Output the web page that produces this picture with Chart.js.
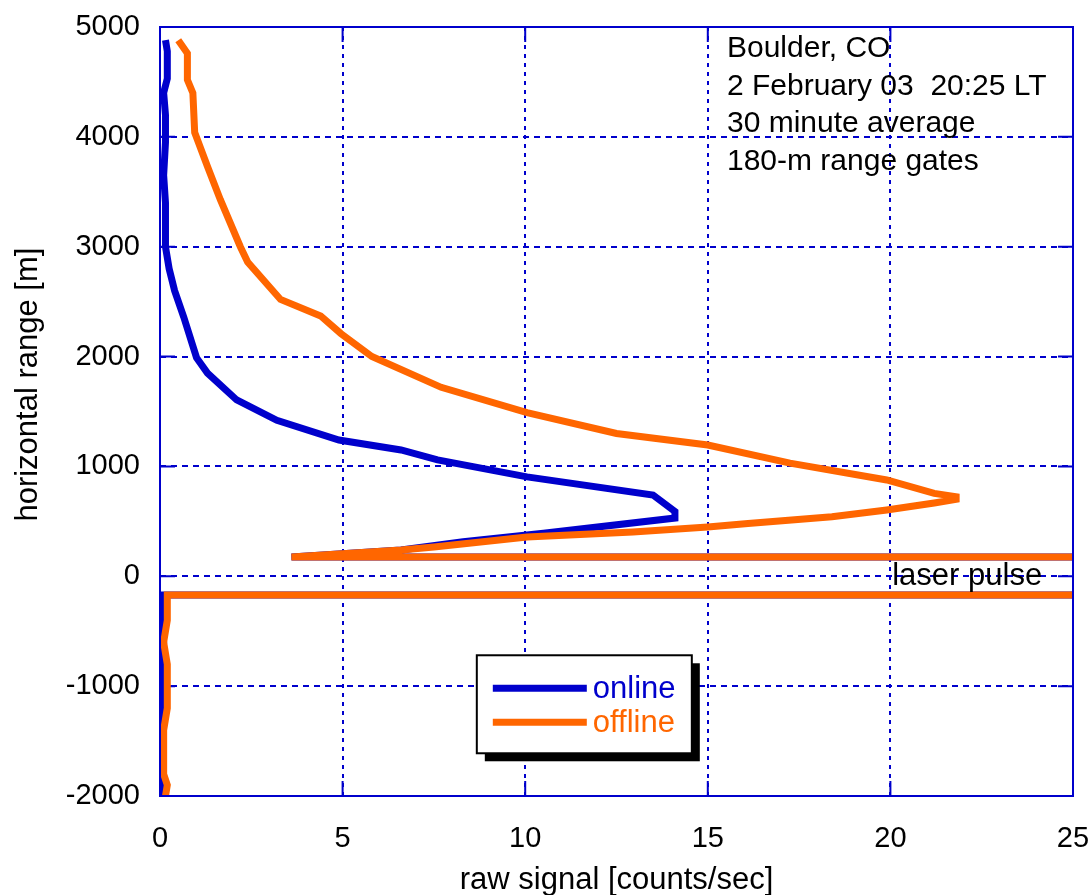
<!DOCTYPE html>
<html>
<head>
<meta charset="utf-8">
<script src="https://cdn.jsdelivr.net/npm/chart.js@4"></script>
<style>
  html, body { margin: 0; padding: 0; background: #ffffff; }
  #wrap { width: 1092px; height: 895px; }
</style>
</head>
<body>
<div id="wrap"><canvas id="chart" width="1092" height="895"></canvas></div>
<script>
// Datos (señal en counts/sec, rango en m)
const onlineSignal = [0.15, 0.2, 0.2, 0.1, 0.15, 0.15, 0.1, 0.15, 0.15, 0.25, 0.4, 0.65, 1.0, 1.3, 2.1,
    3.2, 4.9, 6.6, 7.6, 10.05, 13.5, 14.1, 14.1, 10.5, 8.3, 6.6, 3.6, 60, 60, 0.1, 0.05, 0.1, 0.05, 0.1, 0.05, 0.05];
const onlineRange = [4880, 4780, 4530, 4400, 4200, 3950, 3650, 3400, 3000, 2800, 2600, 2360, 1990, 1850, 1605,
    1420, 1240, 1150, 1060, 905, 740, 590, 530, 392, 315, 240, 176, 176, -170, -170, -400, -600, -900, -1200, -1600, -2000];

const offlineSignal = [0.5, 0.75, 0.75, 0.9, 0.95, 1.3, 1.65, 2.2, 2.4, 3.3, 4.4, 4.95, 5.8, 7.7, 10.05,
    12.5, 15.0, 17.25, 19.9, 21.2, 21.8, 21.8, 21.2, 19.9, 18.4, 16.1, 15.0, 12.95, 10.05, 7.5,
    6.6, 3.6, 60, 60, 0.2, 0.2, 0.1, 0.2, 0.2, 0.1, 0.1, 0.2, 0.15];
const offlineRange = [4880, 4760, 4520, 4400, 4040, 3730, 3430, 3000, 2860, 2520, 2370, 2210, 2000, 1720, 1490,
    1300, 1195, 1030, 877, 755, 725, 700, 667, 604, 542, 480, 449, 403, 357, 266,
    240, 176, 176, -170, -170, -400, -600, -800, -1200, -1400, -1800, -1900, -2000];

const xTicks = [0, 5, 10, 15, 20, 25];
const yTicks = [-2000, -1000, 0, 1000, 2000, 3000, 4000, 5000];

const seriesNames = ["online", "offline"];
const seriesColors = ["#0000cc", "#ff6600"];
const noteLines = ["Boulder, CO", "2 February 03  20:25 LT", "30 minute average", "180-m range gates"];
const pulseLabel = "laser pulse";
const xTitle = "raw signal [counts/sec]";
const yTitle = "horizontal range [m]";

const FONT = "'Liberation Sans', Arial, sans-serif";
const BLUE = "#0000cc";

function toPoints(xs, ys) {
    return xs.map((x, i) => ({x: x, y: ys[i]}));
}

// Marco, marcas hacia dentro, textos y leyenda con sombra
const decorations = {
    id: "decorations",
    beforeDatasetsDraw(chart) {
        const ctx = chart.ctx;
        const a = chart.chartArea;
        const xs = chart.scales.x, ys = chart.scales.y;
        const len = 15;
        ctx.save();
        ctx.strokeStyle = BLUE;
        ctx.lineWidth = 2;
        ctx.beginPath();
        xTicks.forEach((v) => {
            const px = xs.getPixelForValue(v);
            ctx.moveTo(px, a.bottom); ctx.lineTo(px, a.bottom - len);
            ctx.moveTo(px, a.top); ctx.lineTo(px, a.top + len);
        });
        yTicks.forEach((v) => {
            const py = ys.getPixelForValue(v);
            ctx.moveTo(a.left, py); ctx.lineTo(a.left + len, py);
            ctx.moveTo(a.right, py); ctx.lineTo(a.right - len, py);
        });
        ctx.stroke();
        ctx.restore();
    },
    afterDatasetsDraw(chart) {
        const ctx = chart.ctx;
        const a = chart.chartArea;
        const w = a.right - a.left, h = a.bottom - a.top;
        ctx.save();
        // marco
        ctx.strokeStyle = BLUE;
        ctx.lineWidth = 2;
        ctx.strokeRect(a.left, a.top, w, h);

        // titulo del eje y (un poco por encima del centro, como en el original)
        ctx.save();
        ctx.translate(28, a.top + 0.465 * h);
        ctx.rotate(-Math.PI / 2);
        ctx.fillStyle = "#000";
        ctx.font = "31px " + FONT;
        ctx.textAlign = "center";
        ctx.textBaseline = "middle";
        ctx.fillText(yTitle, 0, 0);
        ctx.restore();

        // anotacion arriba a la derecha
        ctx.fillStyle = "#000";
        ctx.font = "30px " + FONT;
        ctx.textAlign = "left";
        ctx.textBaseline = "alphabetic";
        noteLines.forEach((t, i) => {
            ctx.fillText(t, a.left + 0.621 * w, a.top + 30 + i * 37.5);
        });

        // etiqueta del pulso laser
        ctx.textBaseline = "middle";
        ctx.font = "31px " + FONT;
        ctx.fillText(pulseLabel, a.left + 0.802 * w, chart.scales.y.getPixelForValue(0));

        // leyenda
        const lx = a.left + 0.347 * w, ly = a.top + 0.817 * h, bw = 215, bh = 98;
        ctx.fillStyle = "#000";
        ctx.fillRect(lx + 8, ly + 8, bw, bh);
        ctx.fillStyle = "#fff";
        ctx.fillRect(lx, ly, bw, bh);
        ctx.strokeStyle = "#000";
        ctx.lineWidth = 2;
        ctx.strokeRect(lx, ly, bw, bh);
        ctx.font = "31px " + FONT;
        seriesNames.forEach((name, i) => {
            const yy = ly + 33 + i * 34;
            ctx.strokeStyle = seriesColors[i];
            ctx.lineWidth = 7;
            ctx.beginPath();
            ctx.moveTo(lx + 16, yy);
            ctx.lineTo(lx + 110, yy);
            ctx.stroke();
            ctx.fillStyle = seriesColors[i];
            ctx.fillText(name, lx + 116, yy + 1);
        });
        ctx.restore();
    }
};

new Chart(document.getElementById("chart"), {
    type: "scatter",
    data: {
        datasets: [
            {
                label: seriesNames[0],
                data: toPoints(onlineSignal, onlineRange),
                showLine: true,
                borderColor: seriesColors[0],
                backgroundColor: seriesColors[0],
                borderWidth: 7,
                pointRadius: 0,
                order: 2,
            },
            {
                label: seriesNames[1],
                data: toPoints(offlineSignal, offlineRange),
                showLine: true,
                borderColor: seriesColors[1],
                backgroundColor: seriesColors[1],
                borderWidth: 7,
                pointRadius: 0,
                order: 1,
            },
        ],
    },
    options: {
        responsive: false,
        animation: false,
        layout: {
            padding: {left: 0, right: 19, top: 27, bottom: 0},
        },
        scales: {
            x: {
                type: "linear",
                min: 0,
                max: 25,
                afterBuildTicks: (scale) => { scale.ticks = xTicks.map((v) => ({value: v})); },
                afterFit: (scale) => {
                    scale.height = 99;
                    scale.paddingLeft = 0;
                    scale.paddingRight = 0;
                },
                ticks: {
                    color: "#000",
                    padding: 26,
                    maxRotation: 0,
                    font: {family: FONT, size: 29},
                    callback: (v) => String(v),
                },
                grid: {
                    color: BLUE,
                    lineWidth: 2,
                    drawTicks: false,
                },
                border: {display: false, dash: [4, 5]},
                title: {
                    display: true,
                    text: xTitle,
                    color: "#000",
                    font: {family: FONT, size: 31},
                    padding: {top: 0, bottom: -4},
                },
            },
            y: {
                type: "linear",
                min: -2000,
                max: 5000,
                afterBuildTicks: (scale) => { scale.ticks = yTicks.map((v) => ({value: v})); },
                afterFit: (scale) => {
                    scale.width = 160;
                    scale.paddingTop = 0;
                    scale.paddingBottom = 0;
                },
                ticks: {
                    color: "#000",
                    padding: 20,
                    font: {family: FONT, size: 29},
                    callback: (v) => String(v),
                },
                grid: {
                    color: BLUE,
                    lineWidth: 2,
                    drawTicks: false,
                },
                border: {display: false, dash: [6, 5]},
                title: {display: false},
            },
        },
        plugins: {
            legend: {display: false},
            tooltip: {enabled: false},
        },
    },
    plugins: [decorations],
});
</script>
</body>
</html>
